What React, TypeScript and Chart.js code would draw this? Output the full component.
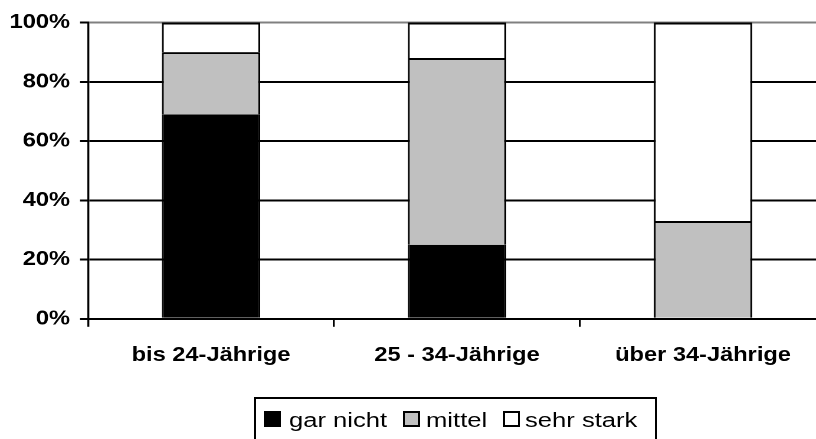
import React, { useEffect, useRef } from "react";
import { Chart, registerables } from "chart.js";

Chart.register(...registerables);

// ---- data ----
const categories = ["bis 24-Jährige", "25 - 34-Jährige", "über 34-Jährige"];
const garNicht = [69, 25, 0];
const mittel = [21, 63, 33];
const sehrStark = [10, 12, 67];
const seriesLabels = ["gar nicht", "mittel", "sehr stark"];
const seriesColors = ["#000000", "#C0C0C0", "#FFFFFF"];
const yTicks = [0, 20, 40, 60, 80, 100];

// ---- layout helpers ----
const S = 1.18; // horizontal stretch of the original picture
const LOGICAL_W = 700;
const H = 439;
const VL = 2 / S; // vertical line width in logical units
const FONT = "'Liberation Sans', Arial, sans-serif";

export default function App() {
  const canvasRef = useRef<HTMLCanvasElement | null>(null);

  useEffect(() => {
    const canvas = canvasRef.current;
    if (!canvas) return;
    const values = [garNicht, mittel, sehrStark];
    const borders = [
      { top: 0, bottom: 0, left: VL, right: VL },
      { top: 2, bottom: 0, left: VL, right: VL },
      { top: 2, bottom: 0, left: VL, right: VL },
    ];
    const chart = new Chart(canvas, {
      type: "bar",
      data: {
        labels: categories,
        datasets: seriesLabels.map((label, i) => ({
          label,
          data: values[i],
          backgroundColor: seriesColors[i],
          borderColor: "#000000",
          borderWidth: borders[i] as any,
          borderSkipped: false as any,
          categoryPercentage: 0.8,
          barPercentage: 0.5,
        })),
      },
      options: {
        animation: false,
        responsive: false,
        devicePixelRatio: 2,
        layout: { padding: { top: 22.5, left: 0, right: 0, bottom: 0 } },
        plugins: {
          legend: { display: false },
          tooltip: { enabled: false },
        },
        scales: {
          x: {
            stacked: true,
            offset: true,
            grid: {
              offset: true,
              drawOnChartArea: false,
              drawTicks: true,
              tickLength: 8,
              color: "#000000",
              lineWidth: VL,
            },
            border: { display: true, color: "#000000", width: 2 },
            ticks: {
              color: "#000000",
              font: { family: FONT, size: 20, weight: "bold" },
              padding: 16.5,
              maxRotation: 0,
              autoSkip: false,
            },
            afterFit: (s: any) => {
              s.height = 120.2;
            },
          },
          y: {
            stacked: true,
            min: 0,
            max: 100,
            afterBuildTicks: (s: any) => {
              s.ticks = yTicks.map((v) => ({ value: v }));
            },
            grid: {
              color: (ctx: any) =>
                ctx.tick && ctx.tick.value === 100 ? "#808080" : "#000000",
              tickColor: "#000000",
              lineWidth: 2,
              tickLength: 6.8,
              drawTicks: true,
            },
            border: { display: true, color: "#000000", width: VL },
            ticks: {
              callback: (v: any) => v + "%",
              color: "#000000",
              font: { family: FONT, size: 20, weight: "bold" },
              padding: 8.5,
            },
            afterFit: (s: any) => {
              s.width = 74.6;
            },
          },
        },
      } as any,
    });
    return () => chart.destroy();
  }, []);

  const legendItems = [
    { box: 264, text: 289 },
    { box: 403, text: 426 },
    { box: 503, text: 525 },
  ];

  return (
    <div
      style={{
        position: "fixed",
        left: 0,
        top: 0,
        width: 816,
        height: H,
        overflow: "hidden",
        background: "#ffffff",
      }}
    >
      <canvas
        ref={canvasRef}
        width={LOGICAL_W}
        height={H}
        style={{ display: "block", width: LOGICAL_W * S + "px", height: H + "px" }}
      />
      <div
        style={{
          position: "absolute",
          left: 254,
          top: 397,
          width: 403,
          height: 60,
          boxSizing: "border-box",
          border: "2px solid #000000",
        }}
      />
      {seriesLabels.map((label, i) => (
        <React.Fragment key={label}>
          <div
            style={{
              position: "absolute",
              left: legendItems[i].box,
              top: 410.5,
              width: 17,
              height: 16,
              boxSizing: "border-box",
              background: seriesColors[i],
              border: "2px solid #000000",
            }}
          />
          <span
            style={{
              position: "absolute",
              left: legendItems[i].text,
              top: 410,
              fontFamily: FONT,
              fontSize: 20,
              lineHeight: "20px",
              color: "#000000",
              whiteSpace: "nowrap",
              transform: "scaleX(1.28)",
              transformOrigin: "0 0",
            }}
          >
            {label}
          </span>
        </React.Fragment>
      ))}
    </div>
  );
}
